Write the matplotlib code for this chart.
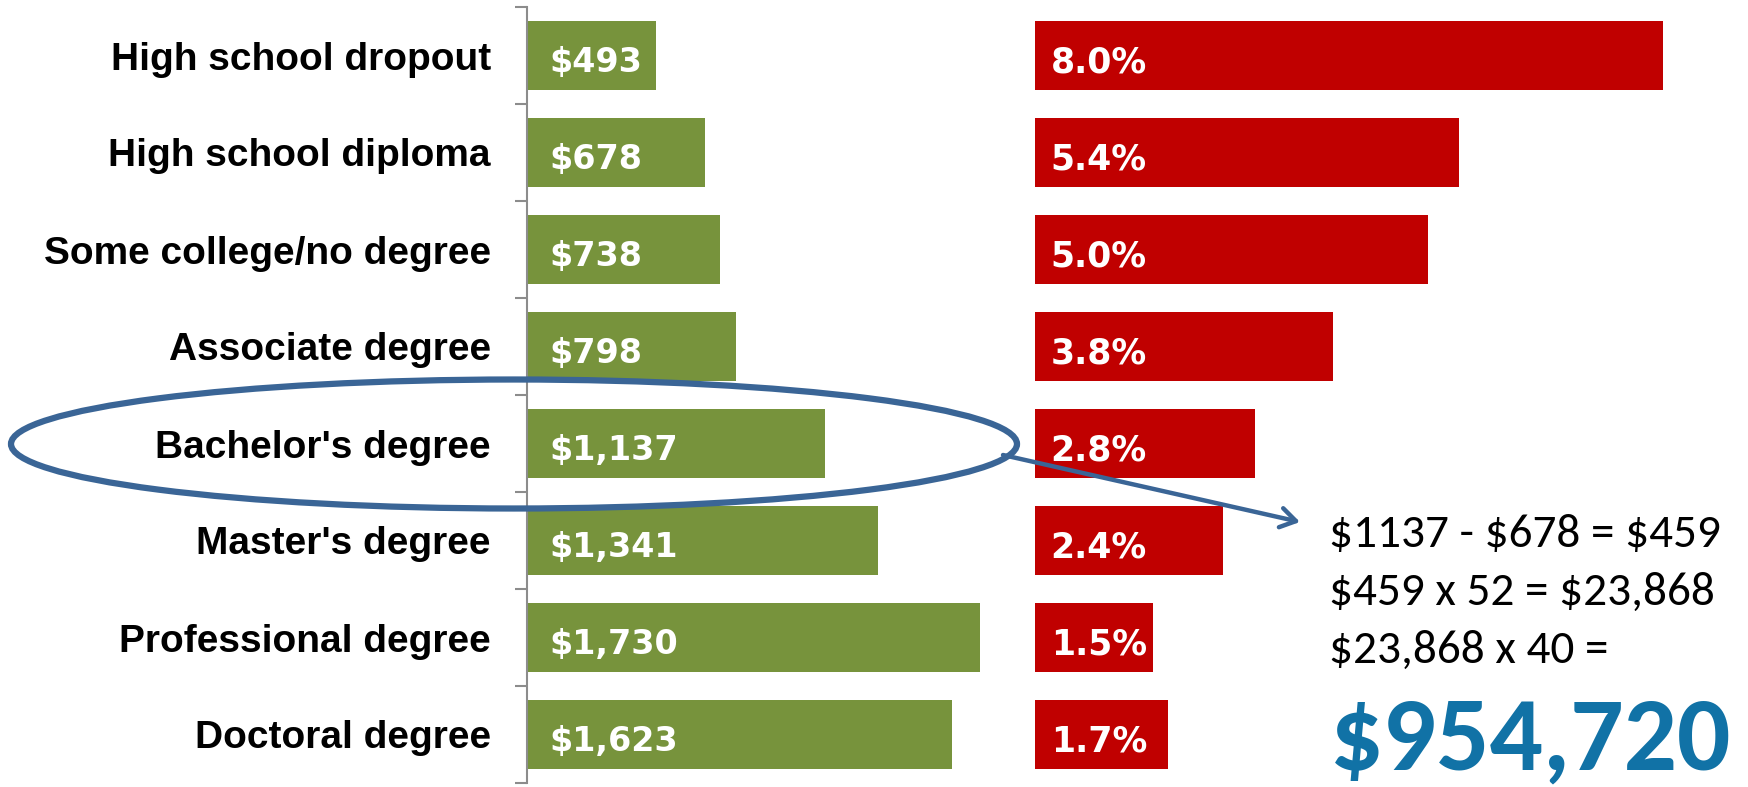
import matplotlib.pyplot as plt
import matplotlib.font_manager as fm
from matplotlib.patches import Ellipse, FancyArrowPatch
import numpy as np

categories = ["High school dropout", "High school diploma", "Some college/no degree",
              "Associate degree", "Bachelor's degree", "Master's degree",
              "Professional degree", "Doctoral degree"]
weekly_earnings = [493, 678, 738, 798, 1137, 1341, 1730, 1623]
earn_labels = ["$493", "$678", "$738", "$798", "$1,137", "$1,341", "$1,730", "$1,623"]
unemployment = [8.0, 5.4, 5.0, 3.8, 2.8, 2.4, 1.5, 1.7]
unemp_labels = ["8.0%", "5.4%", "5.0%", "3.8%", "2.8%", "2.4%", "1.5%", "1.7%"]
calc_lines = ["$1137 - $678 = $459", "$459 x 52 = $23,868", "$23,868 x 40 ="]
total_label = "$954,720"

names = {f.name for f in fm.fontManager.ttflist}
calc_font = "Carlito" if "Carlito" in names else "Open Sans"

W, H = 1748, 787
green = "#77933C"
red = "#C00000"

fig = plt.figure(figsize=(W / 100, H / 100), dpi=100)
y = np.arange(len(categories))

# left: weekly earnings
ax1 = fig.add_axes([527 / W, 4 / H, 473 / W, 776 / H])
ax1.barh(y, weekly_earnings, height=0.72, color=green)
ax1.set_xlim(0, 473 / 0.2618)
ax1.set_ylim(len(categories) - 0.5, -0.5)
ax1.set_yticks(y)
ax1.set_yticklabels(categories, fontsize=28, fontweight="bold", family="Liberation Sans")
ax1.tick_params(axis="y", which="major", length=0, pad=26)
ax1.set_yticks(np.arange(len(categories) + 1) - 0.5, minor=True)
ax1.tick_params(axis="y", which="minor", length=9, width=1.5, color="#8C8C8C")
ax1.set_xticks([])
for s in ["top", "right", "bottom"]:
    ax1.spines[s].set_visible(False)
ax1.spines["left"].set_color("#8C8C8C")
ax1.spines["left"].set_linewidth(1.5)
for i, lab in enumerate(earn_labels):
    ax1.text(85, i + 0.04, lab, color="white", fontsize=24, fontweight="bold",
             family="DejaVu Sans", va="center_baseline", ha="left", parse_math=False)

# right: unemployment rate
ax2 = fig.add_axes([1035 / W, 4 / H, 713 / W, 776 / H])
ax2.barh(y, unemployment, height=0.72, color=red)
ax2.set_xlim(0, 713 / 78.5)
ax2.set_ylim(len(categories) - 0.5, -0.5)
ax2.axis("off")
for i, lab in enumerate(unemp_labels):
    ax2.text(0.2, i + 0.04, lab, color="white", fontsize=25, fontweight="bold",
             family="DejaVu Sans", va="center_baseline", ha="left", parse_math=False)

# overlay for annotations, in pixel units
ov = fig.add_axes([0, 0, 1, 1], zorder=5)
ov.set_xlim(0, W)
ov.set_ylim(H, 0)
ov.axis("off")
ov.add_patch(Ellipse((514, 444), 1006, 129, fill=False, edgecolor="#3A6596", linewidth=4.5))
ov.add_patch(FancyArrowPatch((1003, 455), (1300, 522), arrowstyle="->,head_length=11,head_width=7",
                             color="#3A6596", linewidth=3.2, shrinkA=0, shrinkB=0))
for k, line in enumerate(calc_lines):
    ov.text(1329, 534 + 58 * k, line, fontsize=34, family=calc_font, color="black",
            va="center", ha="left", parse_math=False)
ov.text(1330, 741, total_label, fontsize=76, fontweight="bold", family=calc_font,
        color="#1172A6", va="center", ha="left", parse_math=False)

fig.savefig("out.png", dpi=100)
